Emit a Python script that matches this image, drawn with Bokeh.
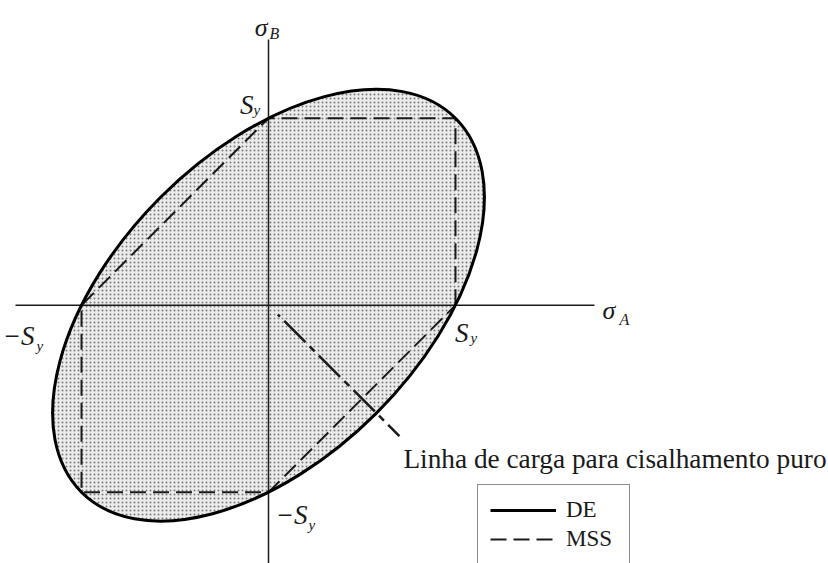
import math

from bokeh.core.properties import value
from bokeh.embed import file_html
from bokeh.models import ColumnDataSource, Legend, LegendItem
from bokeh.plotting import figure
from bokeh.resources import INLINE

# Principal stresses in units of the yield strength Sy
sy = 1.0

# Distortion-energy (von Mises) ellipse: sA^2 - sA*sB + sB^2 = Sy^2
de_center_a = [0.0]
de_center_b = [0.0]
de_major = [2 * math.sqrt(2) * sy]          # full axis along sA = sB
de_minor = [2 * math.sqrt(2.0 / 3.0) * sy]  # full axis along sA = -sB
de_angle = [math.pi / 4]

# Maximum-shear-stress (Tresca) hexagon
mss_a = [1, 1, 0, -1, -1, 0, 1]
mss_b = [0, 1, 1, 0, -1, -1, 0]

# Pure-shear load line (sB = -sA)
shear_a = [0.05, 0.70]
shear_b = [-0.05, -0.70]

# Drawn extents of the two stress axes
axis_a_extent = [-1.353, 1.743]
axis_b_extent = [-1.40, 1.421]

# Yield-strength marks on the axes
tick_vals = [1, -1]

FONT = "Liberation Serif"
SERIF = value(FONT)
INK = "#1a1a1a"

W, H = 828, 563
PX = 187.0  # pixels per Sy
x0, y0 = 268.0, 304.7  # screen position of the origin

p = figure(
    width=W, height=H,
    x_range=(-x0 / PX, (W - x0) / PX),
    y_range=(-(H - y0) / PX, y0 / PX),
    x_axis_type=None, y_axis_type=None,
    toolbar_location=None, output_backend="svg",
    min_border=0, outline_line_color=None,
    background_fill_color="white", border_fill_color="white",
)
p.grid.visible = False

# Stippled safe region inside the DE ellipse
p.ellipse(
    x=de_center_a, y=de_center_b, width=de_major, height=de_minor, angle=de_angle,
    fill_color="#ececec", hatch_pattern="dot", hatch_color="#555555",
    hatch_scale=4, hatch_weight=1, hatch_alpha=0.75,
    line_color=None,
)

# Stress axes
p.line(x=axis_a_extent, y=[0, 0], line_color=INK, line_width=1.5)
p.line(x=[0, 0], y=axis_b_extent, line_color=INK, line_width=1.5)

# MSS hexagon
r_mss = p.line(x=mss_a, y=mss_b, line_color=INK, line_width=2, line_dash="16 7")

# DE ellipse outline
p.ellipse(
    x=de_center_a, y=de_center_b, width=de_major, height=de_minor, angle=de_angle,
    fill_color=None, line_color="black", line_width=3,
)

# Pure-shear load line
p.line(x=shear_a, y=shear_b, line_color=INK, line_width=2.5,
       line_dash="30 6 7 6", line_dash_offset=40)


def label(x, y, main, sub, mx, my, sx, sy_, main_size="27px", sub_size="15px",
          main_align="right"):
    src = ColumnDataSource(dict(x=[x], y=[y], t=[main]))
    p.text(x="x", y="y", text="t", source=src, x_offset=mx, y_offset=my,
           text_font=SERIF, text_font_style="italic", text_font_size=main_size,
           text_align=main_align, text_baseline="alphabetic", text_color=INK)
    src2 = ColumnDataSource(dict(x=[x], y=[y], t=[sub]))
    p.text(x="x", y="y", text="t", source=src2, x_offset=sx, y_offset=sy_,
           text_font=SERIF, text_font_style="italic", text_font_size=sub_size,
           text_align="left", text_baseline="alphabetic", text_color=INK)


# Axis names
label(0, axis_b_extent[1], "σ", "B", -1, -12, 1, -6, main_size="26px", sub_size="16px")
label(axis_a_extent[1], 0, "σ", "A", 8, 5, 25, 14, main_size="26px", sub_size="16px",
      main_align="left")

# Yield-strength marks
label(tick_vals[0], 0, "S", "y", 13, 28, 15, 33)
label(tick_vals[1], 0, "−S", "y", -47, 31, -45, 41)
label(0, tick_vals[0], "S", "y", -15, -13, -15, -8)
label(0, tick_vals[1], "−S", "y", 39, 23, 40, 33)

# Load-line caption
cap = ColumnDataSource(dict(x=[shear_a[1]], y=[shear_b[1]],
                            t=["Linha de carga para cisalhamento puro"]))
p.text(x="x", y="y", text="t", source=cap, x_offset=4, y_offset=22.5,
       text_font=SERIF, text_font_size="27.3px", text_align="left",
       text_baseline="alphabetic", text_color=INK)

# Legend: solid DE swatch plus the dashed MSS hexagon itself
r_de = p.line(x=[math.nan], y=[math.nan], line_color="black", line_width=3)
legend = Legend(
    items=[LegendItem(label="DE", renderers=[r_de]),
           LegendItem(label="MSS", renderers=[r_mss])],
    location=(477, -2), orientation="vertical",
    glyph_width=66, glyph_height=16, label_height=16, label_width=51,
    label_standoff=10, spacing=3, padding=12, margin=0,
    label_text_font=FONT, label_text_font_size="23px", label_text_color=INK,
    label_text_baseline="middle",
    border_line_color=INK, border_line_width=1.5,
    background_fill_color="white", background_fill_alpha=1,
)
p.add_layout(legend, "center")

open("out.html", "w").write(file_html(p, INLINE))
